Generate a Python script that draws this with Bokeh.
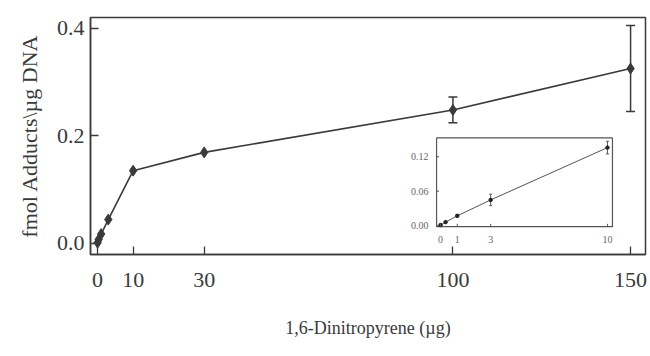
from bokeh.plotting import figure
from bokeh.models import Range1d, FixedTicker, Whisker, ColumnDataSource, TeeHead
from bokeh.core.properties import value
from bokeh.embed import file_html
from bokeh.resources import INLINE

# ---- data ----
dose = [0, 0.3, 1, 3, 10, 30, 100, 150]
adducts = [0.001, 0.007, 0.017, 0.044, 0.135, 0.169, 0.248, 0.325]
err = [0, 0, 0, 0, 0, 0, 0.024, 0.08]
x_ticks = [0, 10, 30, 100, 150]
y_ticks = [0.0, 0.2, 0.4]
y_labels = ["0.0", "0.2", "0.4"]

inset_dose = [0, 0.3, 1, 3, 10]
inset_adducts = [0.001, 0.006, 0.017, 0.0447, 0.136]
inset_err = [0, 0, 0.002, 0.01, 0.011]
inset_x_ticks = [0, 1, 3, 10]
inset_x_labels = ["0", "1", "3", "10"]
inset_y_ticks = [0.0, 0.06, 0.12]
inset_y_labels = ["0.00", "0.06", "0.12"]

INK = "#3a3a3a"
SERIF = "Liberation Serif"

p = figure(width=650, height=356, output_backend="svg", toolbar_location=None,
           x_range=Range1d(-2, 154.2), y_range=Range1d(-0.021, 0.42),
           min_border_left=90, min_border_right=5, min_border_top=17, min_border_bottom=102)
p.background_fill_color = "white"
p.border_fill_color = "white"
p.grid.visible = False
p.outline_line_color = INK
p.outline_line_width = 1.5

for ax in (p.xaxis[0], p.yaxis[0]):
    ax.axis_line_color = INK
    ax.axis_line_width = 1.5
    ax.major_tick_in = 8
    ax.major_tick_out = 0
    ax.major_tick_line_color = INK
    ax.major_tick_line_width = 1.3
    ax.minor_tick_line_color = None
    ax.major_label_text_font = SERIF
    ax.major_label_text_font_size = "22px"
    ax.major_label_text_color = INK
    ax.axis_label_text_font = SERIF
    ax.axis_label_text_font_style = "normal"
    ax.axis_label_text_color = INK

p.xaxis.ticker = FixedTicker(ticks=x_ticks)
p.xaxis.major_label_standoff = 18
p.xaxis.axis_label = "1,6-Dinitropyrene (µg)"
p.xaxis.axis_label_text_font_size = "18px"
p.xaxis.axis_label_standoff = 28

p.yaxis.ticker = FixedTicker(ticks=y_ticks)
p.yaxis.major_label_overrides = {t: l for t, l in zip(y_ticks, y_labels)}
p.yaxis.major_label_standoff = 6
p.yaxis.axis_label = "fmol Adducts\\µg DNA"
p.yaxis.axis_label_text_font_size = "22px"
p.yaxis.axis_label_standoff = 12

src = ColumnDataSource(dict(x=dose, y=adducts))
p.line("x", "y", source=src, line_color=INK, line_width=1.6)
p.scatter("x", "y", source=src, marker="diamond", size=11, fill_color=INK, line_color=INK)

ex = [d for d, e in zip(dose, err) if e > 0]
ey = [a for a, e in zip(adducts, err) if e > 0]
ee = [e for e in err if e > 0]
esrc = ColumnDataSource(dict(x=ex, lo=[a - e for a, e in zip(ey, ee)], hi=[a + e for a, e in zip(ey, ee)]))
p.add_layout(Whisker(source=esrc, base="x", lower="lo", upper="hi", line_color=INK, line_width=1.5,
                     upper_head=TeeHead(size=9, line_color=INK, line_width=1.5),
                     lower_head=TeeHead(size=9, line_color=INK, line_width=1.5)))

# ---- inset ----
ixs = Range1d(-0.24, 10.3)
iys = Range1d(-0.002, 0.153)
sub = p.subplot(x_source=ixs, y_source=iys,
                x_target=Range1d(95.4, 144.9), y_target=Range1d(0.0307, 0.196))
INK2 = "#555555"
sub.quad(left=[ixs.start], right=[ixs.end], bottom=[iys.start], top=[iys.end],
         fill_color="white", line_color=INK2, line_width=1.2)
isrc = ColumnDataSource(dict(x=inset_dose, y=inset_adducts,
                             lo=[a - e for a, e in zip(inset_adducts, inset_err)],
                             hi=[a + e for a, e in zip(inset_adducts, inset_err)]))
sub.line("x", "y", source=isrc, line_color=INK2, line_width=1)
sub.segment(x0="x", y0="lo", x1="x", y1="hi", source=isrc, line_color=INK2, line_width=1)
sub.scatter("x", "lo", source=isrc, marker="dash", size=3, line_color=INK2)
sub.scatter("x", "hi", source=isrc, marker="dash", size=3, line_color=INK2)
sub.scatter("x", "y", source=isrc, marker="circle", size=3.5, fill_color="#222222", line_color="#222222")

# inset ticks and labels
sub.segment(x0=inset_x_ticks, y0=[iys.start] * 4, x1=inset_x_ticks, y1=[iys.start + 0.005] * 4,
            line_color=INK2, line_width=1)
sub.segment(x0=[ixs.start] * 3, y0=inset_y_ticks, x1=[ixs.start + 0.15] * 3, y1=inset_y_ticks,
            line_color=INK2, line_width=1)
sub.text(x=inset_x_ticks, y=[iys.start] * 4, text=inset_x_labels, y_offset=9,
         text_align="center", text_baseline="top", text_font=value(SERIF),
         text_font_size="10px", text_color="#666666")
sub.text(x=[ixs.start] * 3, y=inset_y_ticks, text=inset_y_labels, x_offset=-8,
         text_align="right", text_baseline="middle", text_font=value(SERIF),
         text_font_size="10px", text_color="#666666")

open("out.html", "w").write(file_html(p, INLINE))
